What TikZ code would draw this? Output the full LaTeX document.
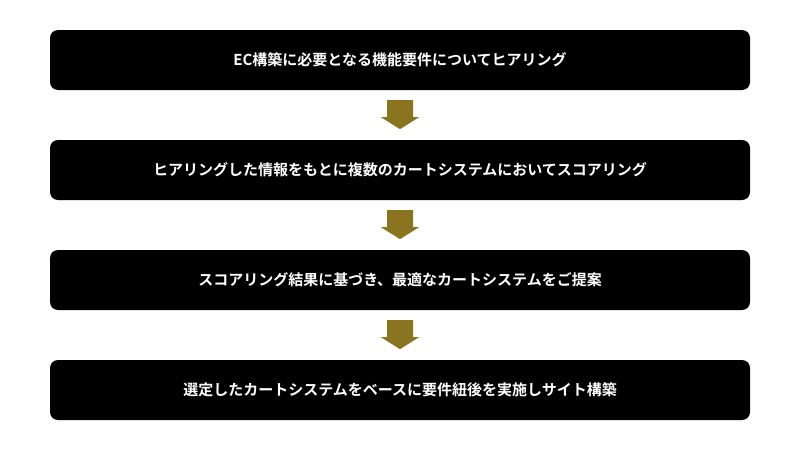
\documentclass[tikz,border=0pt]{standalone}
\usepackage{fontspec}
\newfontfamily\cjk{Noto Sans CJK JP Bold}
\definecolor{gold}{HTML}{8B7420}
\begin{document}
\begin{tikzpicture}[x=1pt,y=-1pt,
  stepbox/.style={fill=black,rounded corners=8pt,minimum width=700pt,minimum height=60pt,inner sep=0pt,text=white,font=\cjk\fontsize{15pt}{18pt}\selectfont},
  flowarrow/.style={fill=gold}]
\useasboundingbox (0,0) rectangle (800,450);
\node[stepbox] (s1) at (400,60) {EC構築に必要となる機能要件についてヒアリング};
\node[stepbox] (s2) at (400,170) {ヒアリングした情報をもとに複数のカートシステムにおいてスコアリング};
\node[stepbox] (s3) at (400,280) {スコアリング結果に基づき、最適なカートシステムをご提案};
\node[stepbox] (s4) at (400,390) {選定したカートシステムをベースに要件紐後を実施しサイト構築};
\foreach \a in {s1,s2,s3}{
  \path (\a.south) ++(0,10) coordinate (t\a);
  \fill[flowarrow] (t\a) ++(-13,0) -- ++(26,0) -- ++(0,17) -- ++(6,0) -- ++(-19,12) -- ++(-19,-12) -- ++(6,0) -- cycle;
}
\end{tikzpicture}
\end{document}
